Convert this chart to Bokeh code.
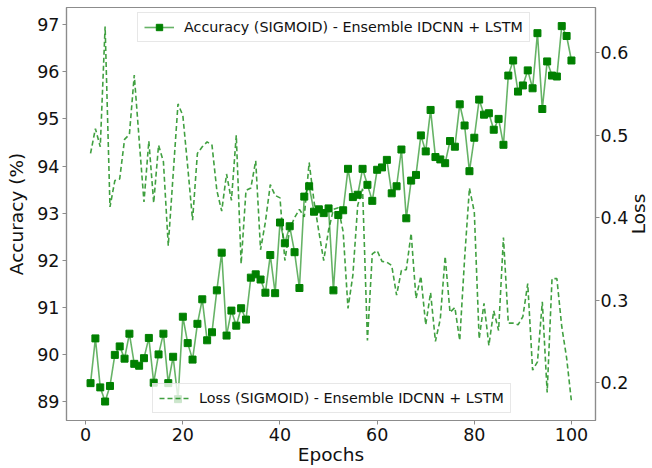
import math
from bokeh.plotting import figure
from bokeh.models import Range1d, LinearAxis, Legend, LegendItem, FixedTicker, Label
from bokeh.embed import file_html
from bokeh.resources import INLINE

epochs = list(range(1, 101))

accuracy = [
    89.39, 90.34, 89.30, 89.00, 89.33, 89.99, 90.17, 89.91, 90.44, 89.80,
    89.76, 89.92, 90.35, 89.40, 90.00, 90.44, 89.39, 89.95, 89.05, 90.80,
    90.24, 89.89, 90.65, 91.17, 90.30, 90.47, 91.36, 92.16, 90.40, 90.93,
    90.61, 90.98, 90.74, 91.63, 91.70, 91.59, 91.31, 92.11, 91.30, 92.80,
    92.36, 92.72, 92.17, 91.41, 93.35, 93.57, 93.03, 93.08, 93.00, 93.10,
    91.36, 92.96, 93.06, 93.94, 93.34, 93.39, 93.94, 93.60, 93.26, 93.92,
    93.97, 94.13, 93.42, 93.57, 94.35, 92.89, 93.69, 93.81, 94.65, 94.31,
    95.19, 94.19, 94.14, 94.06, 94.53, 94.41, 95.31, 94.86, 93.89, 94.60,
    95.41, 95.09, 95.12, 94.77, 95.00, 94.45, 95.92, 96.24, 95.58, 95.71,
    96.03, 95.65, 96.82, 95.21, 96.22, 95.92, 95.90, 96.97, 96.76, 96.24,
]

loss = [
    0.478, 0.508, 0.486, 0.632, 0.413, 0.445, 0.447, 0.495, 0.501, 0.573,
    0.495, 0.419, 0.493, 0.418, 0.488, 0.468, 0.366, 0.452, 0.538, 0.524,
    0.462, 0.397, 0.478, 0.486, 0.492, 0.488, 0.433, 0.408, 0.453, 0.421,
    0.500, 0.344, 0.433, 0.436, 0.469, 0.361, 0.395, 0.440, 0.427, 0.424,
    0.348, 0.386, 0.400, 0.410, 0.401, 0.467, 0.420, 0.383, 0.348, 0.385,
    0.410, 0.412, 0.383, 0.290, 0.330, 0.415, 0.435, 0.251, 0.356, 0.360,
    0.347, 0.346, 0.342, 0.306, 0.336, 0.337, 0.381, 0.302, 0.329, 0.270,
    0.309, 0.250, 0.277, 0.353, 0.285, 0.291, 0.251, 0.350, 0.436, 0.407,
    0.253, 0.296, 0.245, 0.287, 0.263, 0.376, 0.272, 0.272, 0.270, 0.280,
    0.320, 0.215, 0.225, 0.298, 0.188, 0.326, 0.326, 0.268, 0.230, 0.177,
]

epoch_ticks = [0, 20, 40, 60, 80, 100]
acc_ticks = [89, 90, 91, 92, 93, 94, 95, 96, 97]
loss_ticks = [0.2, 0.3, 0.4, 0.5, 0.6]

acc_label = "Accuracy (SIGMOID) - Ensemble IDCNN + LSTM"
loss_label = "Loss (SIGMOID) - Ensemble IDCNN + LSTM"
x_title = "Epochs"
y_title = "Accuracy (%)"
y2_title = "Loss"

FONT = "DejaVu Sans"
SPINE = "#8c8c8c"
TXT = "#111111"

p = figure(width=652, height=468, output_backend="svg", toolbar_location=None,
           x_range=Range1d(-3.95, 104.95), y_range=Range1d(88.597, 97.365),
           min_border_left=66, min_border_right=53, min_border_top=7,
           min_border_bottom=48)
p.extra_y_ranges = {"loss": Range1d(0.1539, 0.655)}
p.xgrid.visible = False
p.ygrid.visible = False
p.outline_line_color = SPINE
p.outline_line_width = 1.2

right_axis = LinearAxis(y_range_name="loss")
p.add_layout(right_axis, "right")

p.xaxis.ticker = FixedTicker(ticks=epoch_ticks)
p.yaxis[0].ticker = FixedTicker(ticks=acc_ticks)
right_axis.ticker = FixedTicker(ticks=loss_ticks)

for ax in [p.xaxis[0], p.yaxis[0], right_axis]:
    ax.axis_line_color = SPINE
    ax.axis_line_width = 1.2
    ax.major_tick_line_color = SPINE
    ax.major_tick_out = 4
    ax.major_tick_in = 0
    ax.minor_tick_line_color = None
    ax.major_label_text_font = FONT
    ax.major_label_text_font_size = "17.5px"
    ax.major_label_text_color = TXT
    ax.major_label_standoff = 3
    ax.axis_label_text_font = FONT
    ax.axis_label_text_font_size = "18.5px"
    ax.axis_label_text_font_style = "normal"
    ax.axis_label_text_color = TXT

right_axis.major_label_standoff = 1
p.xaxis[0].axis_label = x_title
p.xaxis[0].axis_label_standoff = 0
p.yaxis[0].axis_label = y_title
p.yaxis[0].axis_label_standoff = 7

# right-hand title reading bottom-to-top, placed in the right side panel
title_kw = dict(x=7, y=206.5, x_units="screen", y_units="screen",
                text=y2_title, angle=math.pi / 2, text_font=FONT,
                text_font_size="18.5px", text_color=TXT,
                text_align="center", text_baseline="middle")
if "text_line_height" in Label.properties():
    title_kw["text_line_height"] = 0.85
p.add_layout(Label(**title_kw), "right")

acc_line = p.line(epochs, accuracy, line_color="green", line_alpha=0.6, line_width=1.6)
acc_pts = p.scatter(epochs, accuracy, marker="square", size=7,
                    fill_color="green", line_color="green")
loss_line = p.line(epochs, loss, y_range_name="loss", line_color="green",
                   line_alpha=0.75, line_width=1.6, line_dash="5 3")

leg_style = dict(background_fill_color="white", background_fill_alpha=0.8,
                 border_line_color="#d0d0d0", border_line_width=1,
                 label_text_font=FONT, label_text_font_size="14.3px",
                 label_text_color=TXT,
                 glyph_width=30, glyph_height=16, label_standoff=10,
                 padding=6, spacing=0, margin=0)

leg1 = Legend(items=[LegendItem(label=acc_label, renderers=[acc_line, acc_pts])],
              location=(71, 378), **leg_style)
leg2 = Legend(items=[LegendItem(label=loss_label, renderers=[loss_line])],
              location=(86, 7), **leg_style)
p.add_layout(leg1)
p.add_layout(leg2)

open("out.html", "w").write(file_html(p, INLINE))
